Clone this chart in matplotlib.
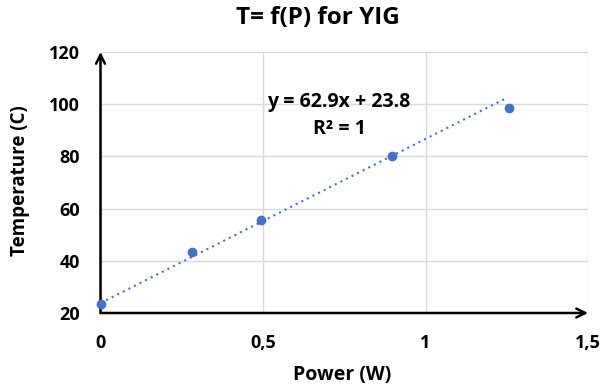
import matplotlib
matplotlib.use("Agg")
import matplotlib.pyplot as plt
import numpy as np

power = [0.0, 0.282, 0.495, 0.897, 1.258]
temperature = [23.4, 43.3, 55.6, 80.0, 98.7]
fit_slope = 62.9
fit_intercept = 23.8
x_ticks = [0, 0.5, 1, 1.5]
x_tick_labels = ["0", "0,5", "1", "1,5"]
y_ticks = [20, 40, 60, 80, 100, 120]

plt.rcParams['font.family'] = ['Open Sans', 'DejaVu Sans']
plt.rcParams['font.weight'] = 'bold'

blue = '#4472C4'
fig = plt.figure(figsize=(6.14, 3.87), dpi=100)
ax = fig.add_axes([100.5/614, 74/387, (588-100.5)/614, (313-52)/387])
ax.set_xlim(0, 1.5)
ax.set_ylim(20, 120)

for s in ax.spines.values():
    s.set_visible(False)
ax.grid(True, color='#D9D9D9', linewidth=1)
ax.set_axisbelow(True)

# axis arrows
ax.annotate('', xy=(1.5, 20), xytext=(0, 20), xycoords='data',
            arrowprops=dict(arrowstyle='->', color='black', lw=1.8, mutation_scale=16, shrinkA=0, shrinkB=0),
            annotation_clip=False)
ax.annotate('', xy=(0, 120), xytext=(0, 20), xycoords='data',
            arrowprops=dict(arrowstyle='->', color='black', lw=1.8, mutation_scale=16, shrinkA=0, shrinkB=0),
            annotation_clip=False)

xs = np.array([min(power), max(power) - 0.01])
ax.plot(xs, fit_slope*xs + fit_intercept, linestyle=(0, (1, 2)), color=blue, lw=1.5, zorder=3)
ax.plot(power, temperature, 'o', color=blue, markersize=6, zorder=4, clip_on=False)

ax.set_xticks(x_ticks)
ax.set_xticklabels(x_tick_labels)
ax.set_yticks(y_ticks)
ax.tick_params(length=0, labelsize=13, pad=15)
ax.tick_params(axis='y', pad=15)
for lbl in ax.get_xticklabels() + ax.get_yticklabels():
    lbl.set_fontweight('bold')

ax.text(0.734, 100.8, f"y = {fit_slope}x + {fit_intercept}", ha='center', va='center',
        fontsize=14, fontweight='bold')
ax.text(0.734, 90.6, "R² = 1", ha='center', va='center', fontsize=14, fontweight='bold')

fig.text(342/614, 1-375/387, "Power (W)", ha='center', va='center', fontsize=14, fontweight='bold')
fig.text(20/614, 1-181/387, "Temperature (C)", ha='center', va='center', rotation=90,
         fontsize=13.5, fontweight='bold')
fig.text(318/614, 1-18/387, "T= f(P) for YIG", ha='center', va='center', fontsize=17.5, fontweight='bold')

fig.savefig('out.png', dpi=100)
